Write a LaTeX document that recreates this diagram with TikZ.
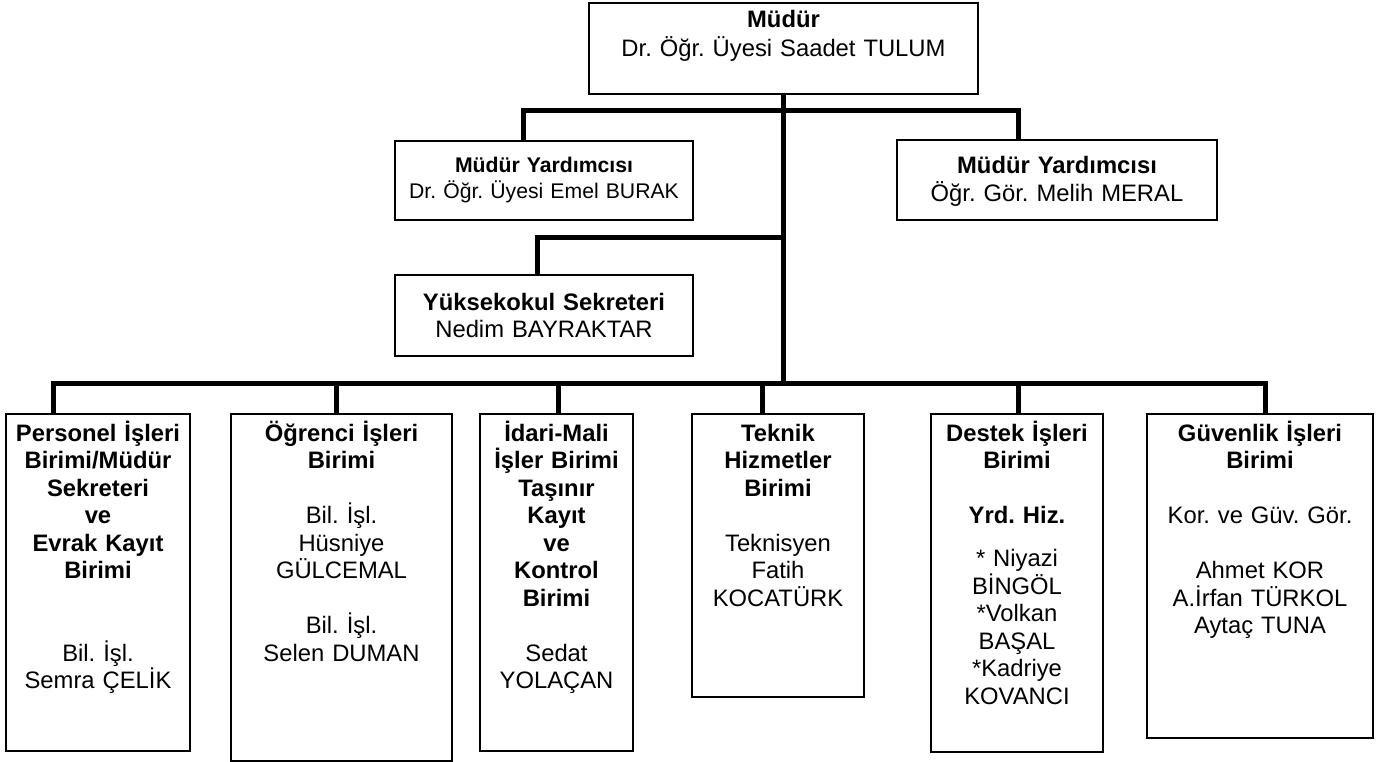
\documentclass[tikz,border=0pt]{standalone}
\usepackage{fontspec}
\setmainfont{Liberation Sans}
\frenchspacing
\newcommand{\orgfont}{\fontsize{23.8}{27.5}\selectfont}
\newcommand{\smallorgfont}{\fontsize{21.2}{26}\selectfont}

\begin{document}
\begin{tikzpicture}[
    x=1pt, y=-1pt,
    unit/.style={draw, line width=1.8pt, inner sep=0pt, anchor=north},
    txt/.style={font=\orgfont, align=center, inner sep=0pt, anchor=base},
    link/.style={line width=5pt}
  ]
  \useasboundingbox (0,0) rectangle (1382,762);

  % boxes
  \node[unit, minimum width=389, minimum height=91]  (mudur)  at (783.5,2)   {};
  \node[unit, minimum width=298, minimum height=79]  (myl)    at (544,140)   {};
  \node[unit, minimum width=320, minimum height=80]  (myr)    at (1057,139)  {};
  \node[unit, minimum width=298, minimum height=81]  (ys)     at (544,274)   {};
  \node[unit, minimum width=184, minimum height=337] (pers)   at (98,413)    {};
  \node[unit, minimum width=221, minimum height=347] (ogr)    at (341.5,413) {};
  \node[unit, minimum width=153, minimum height=337] (idari)  at (556.5,413) {};
  \node[unit, minimum width=172, minimum height=283] (teknik) at (778,413)   {};
  \node[unit, minimum width=172, minimum height=338] (destek) at (1017,413)  {};
  \node[unit, minimum width=226, minimum height=324] (guv)    at (1260,413)  {};

  % texts
  \node[txt, text width=380] (mudurt) at (783.5,28)
    {\bfseries Müdür\\[1.5pt] \mdseries Dr. Öğr. Üyesi Saadet TULUM};
  \node[txt, font=\smallorgfont, text width=290] (mylt) at (544,173)
    {\bfseries Müdür Yardımcısı\\ \mdseries Dr. Öğr. Üyesi Emel BURAK};
  \node[txt, text width=310] (myrt) at (1057,174)
    {\bfseries Müdür Yardımcısı\\ \mdseries Öğr. Gör. Melih MERAL};
  \node[txt, text width=290] (yst) at (544,310)
    {\bfseries Yüksekokul Sekreteri\\ \mdseries Nedim BAYRAKTAR};

  \node[txt, text width=180] (perst) at (98,441)
    {\bfseries Personel İşleri\\ Birimi/Müdür\\ Sekreteri\\ ve\\ Evrak Kayıt\\ Birimi\\[55pt]
     \mdseries Bil. İşl.\\ Semra ÇELİK};
  \node[txt, text width=215] (ogrt) at (341.5,441)
    {\bfseries Öğrenci İşleri\\ Birimi\\[27.5pt]
     \mdseries Bil. İşl.\\ Hüsniye\\ GÜLCEMAL\\[27.5pt] Bil. İşl.\\ Selen DUMAN};
  \node[txt, text width=148] (idarit) at (556.5,441)
    {\bfseries İdari-Mali\\ İşler Birimi\\ Taşınır\\ Kayıt\\ ve\\ Kontrol\\ Birimi\\[27.5pt]
     \mdseries Sedat\\ YOLAÇAN};
  \node[txt, text width=166] (teknikt) at (778,441)
    {\bfseries Teknik\\ Hizmetler\\ Birimi\\[27.5pt]
     \mdseries Teknisyen\\ Fatih\\ KOCATÜRK};
  \node[txt, text width=166] (destekt) at (1017,441)
    {\bfseries Destek İşleri\\ Birimi\\[27.5pt] Yrd. Hiz.\\[15.5pt]
     \mdseries {*} Niyazi\\ BİNGÖL\\ {*}Volkan\\ BAŞAL\\ {*}Kadriye\\ KOVANCI};
  \node[txt, text width=220] (guvt) at (1260,441)
    {\bfseries Güvenlik İşleri\\ Birimi\\[27.5pt]
     \mdseries Kor. ve Güv. Gör.\\[27.5pt] Ahmet KOR\\ A.İrfan TÜRKOL\\ Aytaç TUNA};

  % connectors
  \coordinate (j1) at (783.5,111);
  \coordinate (j2) at (783.5,238);
  \coordinate (j3) at (783.5,383);
  \draw[link] (mudur.south) -- (j3);
  \draw[link] ([xshift=-21pt]myl.north) |- (j1);
  \draw[link] ([xshift=-39pt]myr.north) |- (j1);
  \draw[link] ([xshift=-7pt]ys.north) |- (j2);
  \foreach \b/\o in {pers/-45, ogr/-5.5, idari/1.5, teknik/-16, destek/1, guv/5}
    \draw[link] ([xshift=\o pt]\b.north) |- (j3);
\end{tikzpicture}
\end{document}
